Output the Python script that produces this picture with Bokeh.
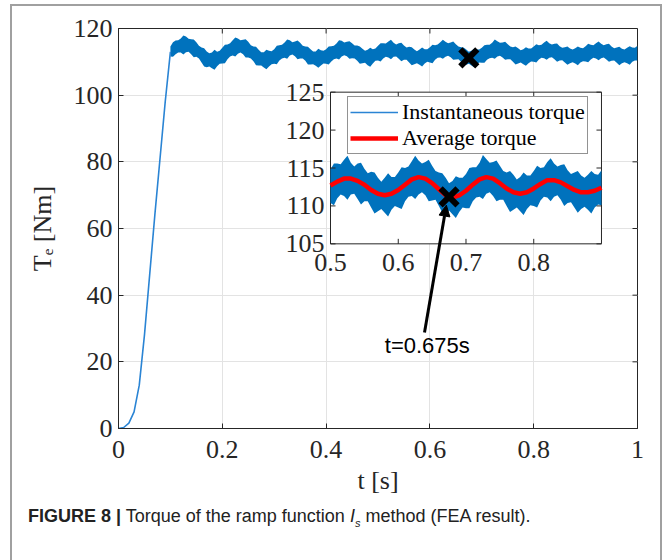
import numpy as np
from bokeh.plotting import figure
from bokeh.layouts import column
from bokeh.models import (Range1d, FixedTicker, Label, Arrow, NormalHead, Div,
                          Legend, LegendItem)
from bokeh.embed import file_html
from bokeh.resources import INLINE
from bokeh.core.properties import value

# ---- data -------------------------------------------------------------
# torque ramp-up at the start of the run [s], [Nm]
ramp_t = [0.0, 0.01, 0.02, 0.03, 0.04, 0.05, 0.06, 0.07, 0.08, 0.09, 0.10]
ramp_torque = [0.0, 0.3, 1.6, 5.0, 13.0, 28.0, 46.0, 64.0, 81.0, 98.0, 113.0]

# instantaneous torque after the ramp: lower / upper edge of the ripple band,
# read every 10 ms ...
band_t = np.round(np.linspace(0.10, 1.00, 91), 2)
band_hi = [114.6, 116.4, 117.0, 117.6, 116.8, 115.9, 114.3, 113.1, 112.8, 113.0,
           114.2, 115.2, 116.5, 117.0, 116.6, 116.0, 114.6, 113.6, 112.9, 113.3,
           113.8, 115.0, 115.8, 116.5, 116.1, 115.7, 114.6, 113.8, 113.1, 113.5,
           113.8, 114.7, 115.5, 116.3, 116.0, 115.6, 114.9, 113.9, 113.6, 113.8,
           114.8, 115.6, 116.1, 115.7, 115.6, 114.9, 114.5, 113.7, 113.7, 113.8,
           114.4, 115.0, 115.9, 116.0, 115.8, 115.3, 114.4, 113.7, 113.3, 113.7,
           114.2, 115.1, 115.7, 116.2, 115.8, 115.3, 114.4, 114.1, 113.8, 114.0,
           114.6, 115.0, 115.8, 115.6, 115.4, 114.7, 114.4, 114.0, 114.1, 114.2,
           114.7, 115.1, 115.6, 115.4, 115.3, 114.6, 114.3, 113.9, 114.2, 114.3,
           114.8]
band_lo = [111.6, 112.3, 112.8, 112.9, 112.3, 111.5, 109.8, 108.4, 108.1, 108.7,
           109.5, 110.8, 111.9, 112.4, 112.3, 111.3, 110.2, 108.9, 108.3, 108.6,
           109.4, 110.4, 111.2, 111.9, 111.7, 111.0, 110.3, 109.2, 108.8, 108.9,
           109.4, 110.1, 111.0, 111.6, 111.7, 111.1, 110.3, 109.6, 109.0, 109.5,
           110.4, 111.0, 111.3, 111.5, 110.9, 110.6, 109.8, 109.3, 109.1, 109.5,
           109.8, 110.6, 111.3, 111.5, 111.4, 110.7, 110.0, 109.1, 108.9, 109.2,
           109.7, 110.6, 111.2, 111.6, 111.3, 110.8, 110.0, 109.5, 109.3, 109.6,
           110.0, 110.7, 111.1, 111.2, 110.8, 110.4, 109.8, 109.6, 109.5, 109.8,
           110.1, 110.7, 111.0, 111.1, 110.7, 110.3, 109.7, 109.6, 109.6, 110.0,
           110.4]
# ... and the ripple spikes half-way between those samples
spike_hi = [115.9, 116.5, 117.9, 116.9, 116.7, 114.8, 114.1, 112.6, 113.6, 113.3,
            115.1, 115.6, 117.3, 116.5, 116.8, 115.0, 114.5, 112.9, 113.6, 113.2,
            114.8, 115.1, 116.7, 115.9, 116.4, 114.8, 114.5, 113.1, 113.9, 113.3,
            114.6, 114.8, 116.5, 115.8, 116.2, 114.9, 114.6, 113.3, 114.2, 114.0,
            115.6, 115.5, 116.6, 115.2, 115.7, 114.3, 114.4, 113.2, 114.3, 113.8,
            115.1, 115.2, 116.6, 115.6, 116.1, 114.6, 114.3, 113.0, 113.9, 113.7,
            115.0, 115.1, 116.7, 115.7, 116.0, 114.6, 114.6, 113.5, 114.4, 114.0,
            115.3, 115.1, 116.3, 115.2, 115.5, 114.2, 114.6, 113.7, 114.6, 114.1,
            115.4, 115.0, 116.1, 115.0, 115.4, 114.1, 114.5, 113.7, 114.7, 114.2]
spike_lo = [111.5, 112.8, 112.2, 113.0, 111.4, 111.0, 108.6, 108.6, 107.6, 109.4,
            109.6, 111.6, 111.6, 112.8, 111.3, 111.0, 109.0, 108.9, 107.8, 109.3,
            109.3, 111.0, 110.9, 112.2, 110.8, 111.0, 109.2, 109.3, 108.2, 109.5,
            109.2, 110.8, 110.7, 112.0, 110.9, 111.0, 109.4, 109.7, 108.5, 110.3,
            110.1, 111.5, 110.8, 111.6, 110.2, 110.6, 109.0, 109.6, 108.6, 110.0,
            109.6, 111.2, 110.9, 111.8, 110.6, 110.8, 109.1, 109.4, 108.4, 109.8,
            109.7, 111.1, 110.9, 111.8, 110.6, 110.8, 109.2, 109.8, 108.8, 110.1,
            109.8, 111.2, 110.6, 111.4, 110.0, 110.5, 109.1, 109.9, 109.0, 110.2,
            109.9, 111.2, 110.5, 111.3, 110.0, 110.4, 109.0, 109.9, 109.1, 110.4]

# average torque over the zoomed window
avg_t = np.round(np.linspace(0.50, 0.90, 41), 2)
avg_torque = [112.7, 113.2, 113.6, 113.6, 113.3, 112.8, 112.1, 111.6, 111.4, 111.6,
              112.1, 112.8, 113.5, 113.8, 113.6, 113.0, 112.2, 111.4, 111.1, 111.4,
              112.0, 112.8, 113.5, 113.8, 113.6, 113.0, 112.3, 111.8, 111.6, 111.8,
              112.3, 112.9, 113.4, 113.4, 113.1, 112.6, 112.1, 111.8, 111.8, 112.0,
              112.4]

# marked sample
mark_t = 0.675
mark_torque = 111.2

# axis ticks
x_ticks = [0, 0.2, 0.4, 0.6, 0.8, 1]
x_tick_labels = ["0", "0.2", "0.4", "0.6", "0.8", "1"]
y_ticks = [0, 20, 40, 60, 80, 100, 120]
inset_x_ticks = [0.5, 0.6, 0.7, 0.8]
inset_x_labels = ["0.5", "0.6", "0.7", "0.8"]
inset_y_ticks = [105, 110, 115, 120, 125]
inset_y_labels = ["105", "110", "115", "120", "125"]

# merge the 10 ms samples and the half-way spikes into one time series
fine_t, fine_hi, fine_lo = [], [], []
for i in range(len(band_t)):
    fine_t.append(band_t[i])
    fine_hi.append(band_hi[i])
    fine_lo.append(band_lo[i])
    if i < len(spike_hi):
        fine_t.append(round(band_t[i] + 0.005, 3))
        fine_hi.append(spike_hi[i])
        fine_lo.append(spike_lo[i])

# ---- styling ----------------------------------------------------------
SERIF = "Liberation Serif"
SANS = "Liberation Sans"
INK = "#262626"
BLUE = "#0072BD"
TICK_FONT = "26px"

p = figure(width=663, height=505, x_range=Range1d(0, 1), y_range=Range1d(0, 120),
           output_backend="svg", toolbar_location=None,
           min_border_left=118, min_border_right=26, min_border_top=28,
           min_border_bottom=77, outline_line_color=INK, outline_line_width=1,
           background_fill_color="white", border_fill_color="white")

p.xaxis.ticker = FixedTicker(ticks=x_ticks)
p.xaxis.major_label_overrides = dict(zip(x_ticks, x_tick_labels))
p.yaxis.ticker = FixedTicker(ticks=y_ticks)
for ax in (p.xaxis[0], p.yaxis[0]):
    ax.axis_line_color = INK
    ax.major_tick_line_color = INK
    ax.major_tick_in = 5
    ax.major_tick_out = 0
    ax.minor_tick_line_color = None
    ax.major_label_text_font = SERIF
    ax.major_label_text_color = INK
    ax.major_label_text_font_size = TICK_FONT
    ax.axis_label_text_font = SERIF
    ax.axis_label_text_font_style = "normal"
    ax.axis_label_text_font_size = "26px"
    ax.axis_label_text_color = INK
p.xaxis.major_label_standoff = 12
p.yaxis.major_label_standoff = 6
p.xaxis.axis_label = "t [s]"
p.xaxis.axis_label_standoff = 5
p.yaxis.axis_label = "T\u2091 [Nm]"
p.yaxis.axis_label_standoff = 14

p.grid.grid_line_color = "#e3e3e3"
p.grid.grid_line_width = 1

# tick marks on the top and right edges of the box (pointing inwards)
p.ray(x=x_ticks, y=[120] * len(x_ticks), length=5, length_units="screen",
      angle=-np.pi / 2, line_color=INK)
p.ray(x=[1] * len(y_ticks), y=y_ticks, length=5, length_units="screen",
      angle=np.pi, line_color=INK)

# ---- main traces ------------------------------------------------------
p.varea(x=fine_t, y1=fine_lo, y2=fine_hi, fill_color=BLUE)
ramp_line = p.line(ramp_t, ramp_torque, line_color="#2A84D4", line_width=1.6)
p.scatter([mark_t], [mark_torque], marker="x", size=24, line_width=6,
          line_color="black")

# ---- zoomed inset -----------------------------------------------------
in_x_src, in_y_src = Range1d(0.5, 0.9), Range1d(105, 125)
in_x_tgt, in_y_tgt = Range1d(0.4085, 0.9306), Range1d(55.4, 100.9)
inset = p.subplot(x_source=in_x_src, y_source=in_y_src,
                  x_target=in_x_tgt, y_target=in_y_tgt)


def to_main(x, y):
    fx = (x - in_x_src.start) / (in_x_src.end - in_x_src.start)
    fy = (y - in_y_src.start) / (in_y_src.end - in_y_src.start)
    return (in_x_tgt.start + fx * (in_x_tgt.end - in_x_tgt.start),
            in_y_tgt.start + fy * (in_y_tgt.end - in_y_tgt.start))


inset.quad(left=[in_x_src.start], right=[in_x_src.end], bottom=[in_y_src.start],
           top=[in_y_src.end], fill_color="white", line_color=INK, line_width=1)

sel = [i for i, t in enumerate(fine_t) if 0.5 <= t <= 0.9]
inset.varea(x=[fine_t[i] for i in sel], y1=[fine_lo[i] for i in sel],
            y2=[fine_hi[i] for i in sel], fill_color=BLUE)
avg_line = inset.line(avg_t, avg_torque, line_color="#FF0000", line_width=4.5)
inset.scatter([mark_t], [mark_torque], marker="x", size=24, line_width=6,
              line_color="black")

# inset ticks (pointing inwards) and their labels
n_x, n_y = len(inset_x_ticks), len(inset_y_ticks)
inset.ray(x=inset_x_ticks, y=[in_y_src.start] * n_x, length=5, length_units="screen",
          angle=np.pi / 2, line_color=INK)
inset.ray(x=inset_x_ticks, y=[in_y_src.end] * n_x, length=5, length_units="screen",
          angle=-np.pi / 2, line_color=INK)
inset.ray(x=[in_x_src.start] * n_y, y=inset_y_ticks, length=5, length_units="screen",
          angle=0, line_color=INK)
inset.ray(x=[in_x_src.end] * n_y, y=inset_y_ticks, length=5, length_units="screen",
          angle=np.pi, line_color=INK)
inset.text(x=inset_x_ticks, y=[in_y_src.start] * n_x, text=inset_x_labels,
           y_offset=10, text_align="center", text_baseline="top",
           text_font=value(SERIF), text_font_size=TICK_FONT, text_color=INK)
inset.text(x=[in_x_src.start] * n_y, y=inset_y_ticks, text=inset_y_labels,
           x_offset=-6, text_align="right", text_baseline="middle",
           text_font=value(SERIF), text_font_size=TICK_FONT, text_color=INK)

# legend
legend = Legend(items=[LegendItem(label="Instantaneous torque", renderers=[ramp_line]),
                       LegendItem(label="Average torque", renderers=[avg_line])],
                location=(229, 274), label_text_font=SERIF, label_text_font_size="22px",
                label_text_color="black", glyph_width=48, glyph_height=20,
                label_height=20, label_standoff=4, spacing=0, padding=2, margin=0,
                border_line_color=INK, border_line_width=1,
                background_fill_color="white", background_fill_alpha=1)
p.add_layout(legend)

# pointer from the time stamp to the marked sample
tip_x, tip_y = to_main(mark_t - 0.004, mark_torque - 1.1)
p.add_layout(Arrow(end=NormalHead(size=11, fill_color="black", line_color="black"),
                   x_start=0.5896, y_start=28.8, x_end=tip_x, y_end=tip_y,
                   line_width=3, line_color="black"))
p.add_layout(Label(x=0.595, y=21.3, text="t=0.675s", text_align="center",
                   text_font=SANS, text_font_size="22px", text_color="black"))

# ---- caption and page frame -------------------------------------------
caption = Div(
    text=('<div style="margin:-6px 0 0 0;padding:0 0 0 23px;'
          'font-family:\'Liberation Sans\';font-size:18px;line-height:21px;'
          'color:#222;white-space:nowrap">'
          '<b>FIGURE 8 |</b> Torque of the ramp function '
          '<i>I<sub style="font-size:11px">s</sub></i> method (FEA result).</div>'),
    width=663, height=55)

page = column(p, caption, spacing=0, stylesheets=[
    ":host { position: relative; }"
    ":host::after { content: ''; position: absolute; left: 10px; top: 4px;"
    " width: 652px; height: 556px; box-sizing: border-box;"
    " border: 2px solid #a0a0a0; border-bottom: none; pointer-events: none;"
    " z-index: 10; }"])

open("out.html", "w").write(file_html(page, INLINE))
